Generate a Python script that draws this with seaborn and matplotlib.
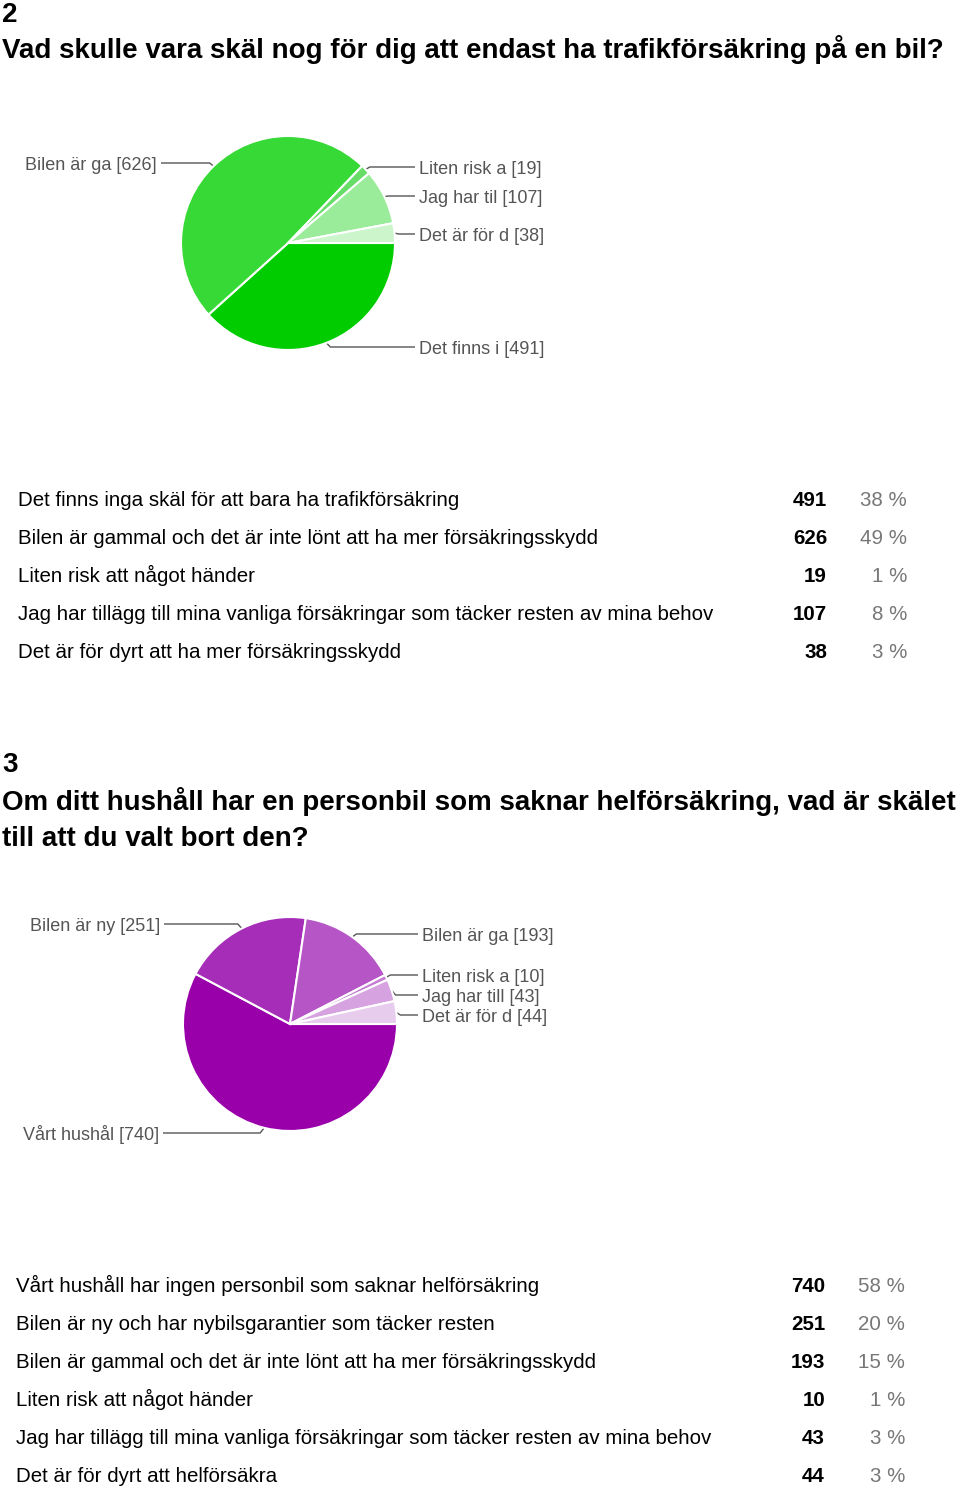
import numpy as np
import matplotlib
matplotlib.use("Agg")
import matplotlib.pyplot as plt
import seaborn as sns

# ---------------- data ----------------
q2_number = "2"
q2_title = ["Vad skulle vara skäl nog för dig att endast ha trafikförsäkring på en bil?"]
q2_short = ["Det finns i", "Bilen är ga", "Liten risk a", "Jag har til", "Det är för d"]
q2_full = [
    "Det finns inga skäl för att bara ha trafikförsäkring",
    "Bilen är gammal och det är inte lönt att ha mer försäkringsskydd",
    "Liten risk att något händer",
    "Jag har tillägg till mina vanliga försäkringar som täcker resten av mina behov",
    "Det är för dyrt att ha mer försäkringsskydd",
]
q2_counts = [491, 626, 19, 107, 38]
q2_colors = ["#00cc00", "#36d936", "#66dd66", "#9aec9a", "#ccf5cc"]

q3_number = "3"
q3_title = ["Om ditt hushåll har en personbil som saknar helförsäkring, vad är skälet",
            "till att du valt bort den?"]
q3_short = ["Vårt hushål", "Bilen är ny", "Bilen är ga", "Liten risk a", "Jag har till", "Det är för d"]
q3_full = [
    "Vårt hushåll har ingen personbil som saknar helförsäkring",
    "Bilen är ny och har nybilsgarantier som täcker resten",
    "Bilen är gammal och det är inte lönt att ha mer försäkringsskydd",
    "Liten risk att något händer",
    "Jag har tillägg till mina vanliga försäkringar som täcker resten av mina behov",
    "Det är för dyrt att helförsäkra",
]
q3_counts = [740, 251, 193, 10, 43, 44]
q3_colors = ["#9900aa", "#a52db7", "#b656c6", "#c47bd2", "#d6a2e0", "#e8ccee"]

# ---------------- layout ----------------
W, H = 960, 1490
sns.set_theme(style="white")
plt.rcParams["font.family"] = ["Liberation Sans", "DejaVu Sans"]

fig = plt.figure(figsize=(W / 100, H / 100), dpi=100)
fig.patch.set_facecolor("white")
over = fig.add_axes([0, 0, 1, 1])
over.set_xlim(0, W)
over.set_ylim(H, 0)
over.axis("off")
over.patch.set_alpha(0)

TITLE_FS = 20
TABLE_FS = 14.8
LABEL_FS = 13
LINE_C = "#555555"
LABEL_C = "#555555"


def draw_title(number, lines, y_num, y_first, step):
    off = 9.5
    over.text(2, y_num + off, number, fontsize=TITLE_FS, fontweight="bold", va="baseline", ha="left", color="black")
    for i, t in enumerate(lines):
        over.text(2, y_first + i * step + off, t, fontsize=TITLE_FS, fontweight="bold",
                  va="baseline", ha="left", color="black")


def draw_pie(cx, cy, r, counts, colors, short, label_pos):
    ax = fig.add_axes([(cx - r) / W, 1 - (cy + r) / H, 2 * r / W, 2 * r / H])
    wedges, _ = ax.pie(counts, colors=colors, startangle=0, counterclock=False,
                       wedgeprops=dict(edgecolor="white", linewidth=1.5))
    ax.set_xlim(-1, 1)
    ax.set_ylim(-1, 1)
    for w, lab, n, (side, tx, ty) in zip(wedges, short, counts, label_pos):
        mid = np.deg2rad((w.theta1 + w.theta2) / 2)
        px = cx + r * np.cos(mid)
        py = cy - r * np.sin(mid)
        if side == "L":
            xs = [px, px - 4, tx + 4]
            over.text(tx, ty + 7, f"{lab} [{n}]", fontsize=LABEL_FS, color=LABEL_C, ha="right", va="baseline")
        else:
            xs = [px, px + 4, tx - 4]
            over.text(tx, ty + 7, f"{lab} [{n}]", fontsize=LABEL_FS, color=LABEL_C, ha="left", va="baseline")
        over.plot(xs, [py, ty, ty], color=LINE_C, lw=1, solid_capstyle="butt")


def draw_table(full, counts, y0, step, x_text, x_num, x_pct):
    total = sum(counts)
    for i, (t, n) in enumerate(zip(full, counts)):
        y = y0 + i * step + 7.5
        over.text(x_text, y, t, fontsize=TABLE_FS, color="black", ha="left", va="baseline")
        over.text(x_num, y, str(n), fontsize=TABLE_FS, fontweight="bold", color="black", ha="right", va="baseline")
        over.text(x_pct, y, f"{round(n / total * 100)} %", fontsize=TABLE_FS, color="#777777",
                  ha="right", va="baseline")


# question 2
draw_title(q2_number, q2_title, 12, 48, 36)
draw_pie(288, 243, 107, q2_counts, q2_colors, q2_short,
         [("R", 419, 347), ("L", 157, 163), ("R", 419, 167), ("R", 419, 196), ("R", 419, 234)])
draw_table(q2_full, q2_counts, 498, 38, 18, 827, 907)

# question 3
draw_title(q3_number, q3_title, 762, 800, 36)
draw_pie(290, 1024, 107, q3_counts, q3_colors, q3_short,
         [("L", 159, 1133), ("L", 160, 924), ("R", 422, 934), ("R", 422, 975), ("R", 422, 995), ("R", 422, 1015)])
draw_table(q3_full, q3_counts, 1285, 37.8, 16, 825, 905)

fig.savefig("out.png", dpi=100, facecolor="white")
